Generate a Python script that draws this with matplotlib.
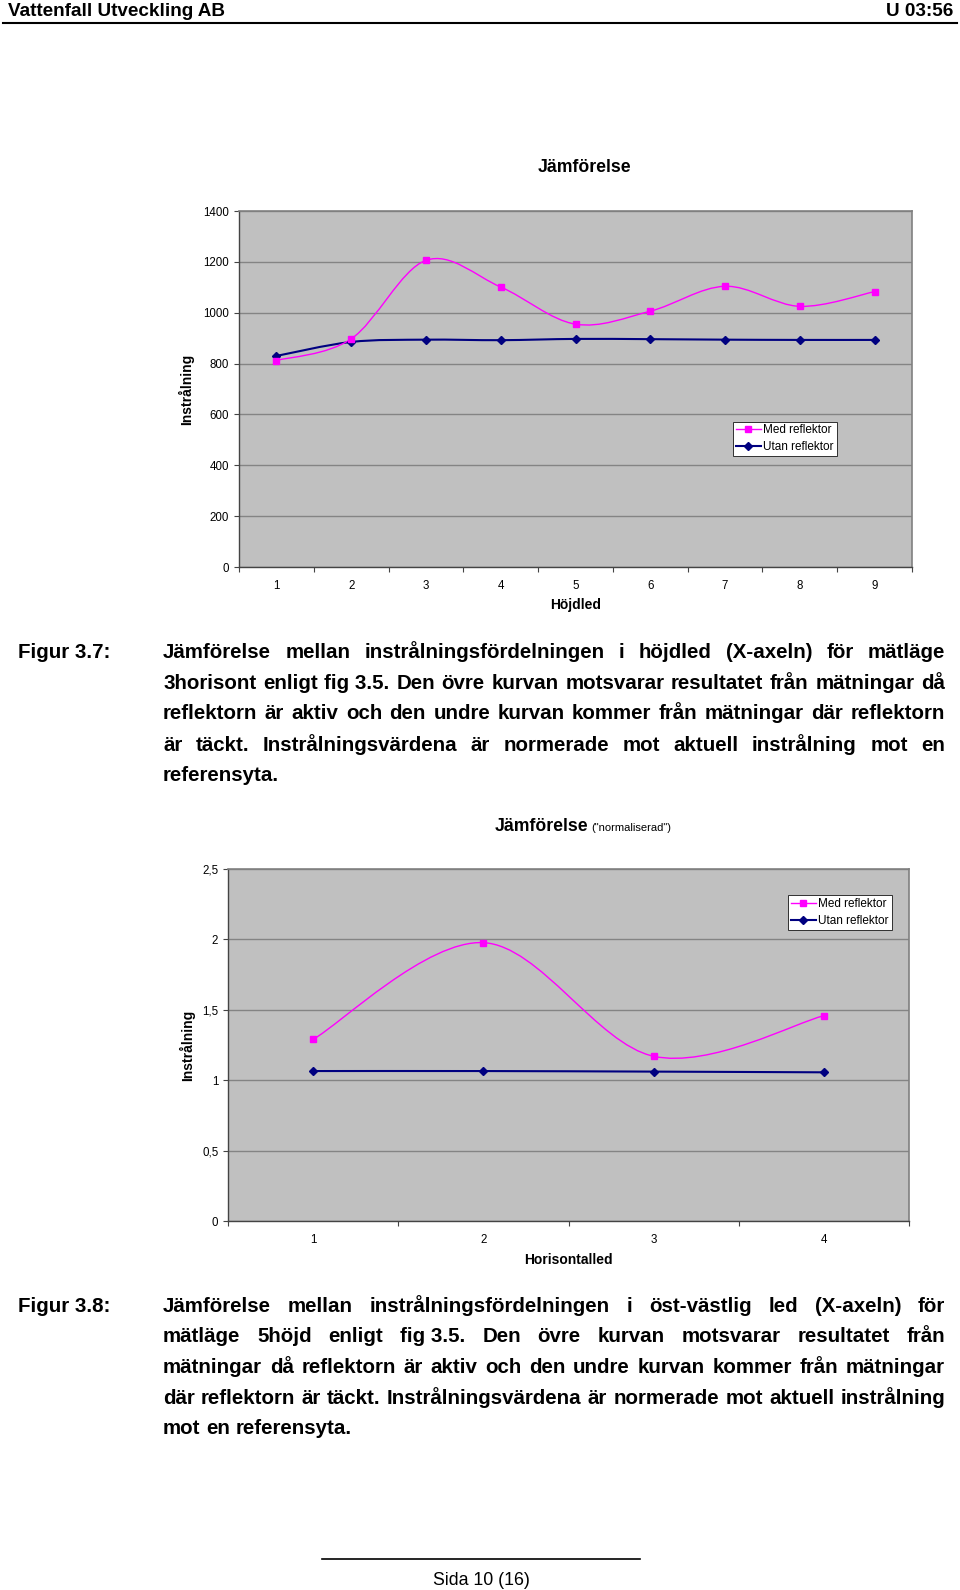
import matplotlib
matplotlib.use('Agg')
import matplotlib.pyplot as plt
from matplotlib.path import Path
from matplotlib.patches import PathPatch
from matplotlib.lines import Line2D
import numpy as np

W, H = 960, 1590
FONT = ['Liberation Sans', 'DejaVu Sans']
plt.rcParams['font.family'] = FONT

# ---------------- data ----------------
series_names = ['Med reflektor', 'Utan reflektor']

hojd_x = [1, 2, 3, 4, 5, 6, 7, 8, 9]
hojd_med = [812, 897, 1206, 1101, 955, 1006, 1104, 1025, 1083]
hojd_utan = [830, 885, 894, 892, 897, 896, 894, 893, 893]
hojd_yticks = [0, 200, 400, 600, 800, 1000, 1200, 1400]
hojd_yticklabels = ['0', '200', '400', '600', '800', '1000', '1200', '1400']

hor_x = [1, 2, 3, 4]
hor_med = [1.29, 1.977, 1.17, 1.458]
hor_utan = [1.065, 1.065, 1.061, 1.056]
hor_yticks = [0, 0.5, 1, 1.5, 2, 2.5]
hor_yticklabels = ['0', '0,5', '1', '1,5', '2', '2,5']

caption1 = [
    "Jämförelse mellan instrålningsfördelningen i höjdled (X-axeln) för mätläge",
    "3horisont enligt fig\u00a03.5. Den övre kurvan motsvarar resultatet från mätningar då",
    "reflektorn är aktiv och den undre kurvan kommer från mätningar där reflektorn",
    "är täckt. Instrålningsvärdena är normerade mot aktuell instrålning mot en",
    "referensyta.",
]
caption2 = [
    "Jämförelse mellan instrålningsfördelningen i öst-västlig led (X-axeln) för",
    "mätläge 5höjd enligt fig\u00a03.5. Den övre kurvan motsvarar resultatet från",
    "mätningar då reflektorn är aktiv och den undre kurvan kommer från mätningar",
    "där reflektorn är täckt. Instrålningsvärdena är normerade mot aktuell instrålning",
    "mot en referensyta.",
]

MAG = '#ff00ff'
NAVY = '#000080'

fig = plt.figure(figsize=(W / 100, H / 100), dpi=100)
renderer = fig.canvas.get_renderer()


def fx(x):
    return x / W


def fy(y):
    return 1 - y / H


def text_w(s, **kw):
    t = fig.text(0, 0, s, **kw)
    w = t.get_window_extent(renderer).width
    t.remove()
    return w


def paragraph(lines, x0, x1, baselines, **kw):
    space = text_w('a a', **kw) - text_w('aa', **kw)
    for k, (line, yb) in enumerate(zip(lines, baselines)):
        words = line.split(' ')
        widths = [text_w(w, **kw) for w in words]
        if k == len(lines) - 1 or len(words) == 1:
            gap = space
        else:
            gap = (x1 - x0 - sum(widths)) / (len(words) - 1)
        x = x0
        for w, ww in zip(words, widths):
            fig.text(fx(x), fy(yb), w, ha='left', va='baseline', **kw)
            x += ww + gap


def smooth_path(xs, ys):
    pts = np.column_stack([xs, ys]).astype(float)
    n = len(pts)
    verts = [pts[0]]
    codes = [Path.MOVETO]
    for i in range(n - 1):
        p0 = pts[i - 1] if i > 0 else pts[i]
        p1 = pts[i]
        p2 = pts[i + 1]
        p3 = pts[i + 2] if i + 2 < n else pts[i + 1]
        verts += [p1 + (p2 - p0) / 6.0, p2 - (p3 - p1) / 6.0, p2]
        codes += [Path.CURVE4] * 3
    return Path(verts, codes)


def draw_series(ax, xs, ys, color, marker, ms, lw):
    ax.add_patch(PathPatch(smooth_path(xs, ys), facecolor='none',
                           edgecolor=color, lw=lw, zorder=3))
    ax.plot(xs, ys, linestyle='none', marker=marker, ms=ms,
            color=color, zorder=4)


def style_axes(ax, xs, ylim, yticks, yticklabels):
    ax.set_facecolor('#c0c0c0')
    ax.set_xlim(xs[0] - 0.5, xs[-1] + 0.5)
    ax.set_ylim(*ylim)
    ax.set_yticks(yticks)
    ax.set_yticklabels(yticklabels)
    ax.set_xticks(xs)
    ax.set_xticklabels([str(v) for v in xs])
    ax.set_xticks(np.arange(xs[0] - 0.5, xs[-1] + 0.51, 1.0), minor=True)
    ax.tick_params(axis='x', which='major', length=0, pad=9.5, labelsize=8.3)
    ax.tick_params(axis='x', which='minor', length=3.5, direction='out',
                   color='#444444', width=0.8)
    ax.tick_params(axis='y', which='major', length=3.5, direction='out',
                   color='#444444', width=0.8, pad=3.5, labelsize=8.3)
    ax.yaxis.grid(True, color='#848484', lw=1.0)
    ax.set_axisbelow(True)
    for s in ['top', 'right']:
        ax.spines[s].set_color('#808080')
        ax.spines[s].set_linewidth(1.2)
    for s in ['left', 'bottom']:
        ax.spines[s].set_color('#444444')
        ax.spines[s].set_linewidth(1.0)


def add_legend(ax, x, y):
    handles = [
        Line2D([], [], color=MAG, lw=1.0, marker='s', ms=5),
        Line2D([], [], color=NAVY, lw=1.5, marker='D', ms=4),
    ]
    leg = ax.legend(handles, series_names, loc='upper left',
                    bbox_to_anchor=(fx(x), fy(y)), bbox_transform=fig.transFigure,
                    borderaxespad=0, fontsize=8.5, handlelength=2.1,
                    handletextpad=0.2, borderpad=0.25, labelspacing=0.42,
                    fancybox=False, framealpha=1, edgecolor='#303030')
    leg.get_frame().set_linewidth(0.7)


# ---------------- header ----------------
fig.text(fx(8), fy(16), 'Vattenfall Utveckling AB', fontsize=13.6, fontweight='bold',
         ha='left', va='baseline')
fig.text(fx(953), fy(16), 'U 03:56', fontsize=13.6, fontweight='bold',
         ha='right', va='baseline')
fig.add_artist(Line2D([fx(3), fx(957)], [fy(22.7)] * 2, transform=fig.transFigure,
                      color='black', lw=1.5))

# ---------------- chart 1 ----------------
ax1 = fig.add_axes([fx(239), fy(567), (912 - 239) / W, (567 - 211) / H])
style_axes(ax1, hojd_x, (0, 1400), hojd_yticks, hojd_yticklabels)
draw_series(ax1, hojd_x, hojd_utan, NAVY, 'D', 4, 1.5)
draw_series(ax1, hojd_x, hojd_med, MAG, 's', 5, 1.0)
ax1.set_xlabel('Höjdled', fontsize=10, fontweight='bold')
ax1.xaxis.set_label_coords(0.5, -0.088)
ax1.set_ylabel('Instrålning', fontsize=10, fontweight='bold')
ax1.yaxis.set_label_coords(-0.066, 0.5)
add_legend(ax1, 733, 421.5)
fig.text(fx(584), fy(172), 'Jämförelse', fontsize=12.7, fontweight='bold',
         ha='center', va='baseline')

# ---------------- caption 1 ----------------
cap_kw = dict(fontsize=14.8, fontweight='bold')
fig.text(fx(18), fy(658), 'Figur 3.7:', ha='left', va='baseline', **cap_kw)
paragraph(caption1, 163, 945, [658, 688.5, 719.5, 750.5, 781], **cap_kw)

# ---------------- chart 2 ----------------
ax2 = fig.add_axes([fx(228), fy(1221), (909 - 228) / W, (1221 - 869) / H])
style_axes(ax2, hor_x, (0, 2.5), hor_yticks, hor_yticklabels)
draw_series(ax2, hor_x, hor_utan, NAVY, 'D', 4, 1.5)
draw_series(ax2, hor_x, hor_med, MAG, 's', 5, 1.0)
ax2.set_xlabel('Horisontalled', fontsize=10, fontweight='bold')
ax2.xaxis.set_label_coords(0.5, -0.09)
ax2.set_ylabel('Instrålning', fontsize=10, fontweight='bold')
ax2.yaxis.set_label_coords(-0.049, 0.5)
add_legend(ax2, 788, 895)
fig.text(fx(495), fy(830.5), 'Jämförelse', fontsize=12.7, fontweight='bold',
         ha='left', va='baseline')
fig.text(fx(591), fy(830.5), '("normaliserad")', fontsize=8, ha='left', va='baseline')

# ---------------- caption 2 ----------------
fig.text(fx(18), fy(1312), 'Figur 3.8:', ha='left', va='baseline', **cap_kw)
paragraph(caption2, 163, 945, [1312, 1342.5, 1373, 1403.5, 1434], **cap_kw)

# ---------------- footer ----------------
fig.add_artist(Line2D([fx(322), fx(640)], [fy(1559)] * 2, transform=fig.transFigure,
                      color='black', lw=1.2))
fig.text(fx(481), fy(1585), 'Sida 10 (16)', fontsize=12.8, ha='center', va='baseline')

fig.savefig('out.png', dpi=100, facecolor='white')
